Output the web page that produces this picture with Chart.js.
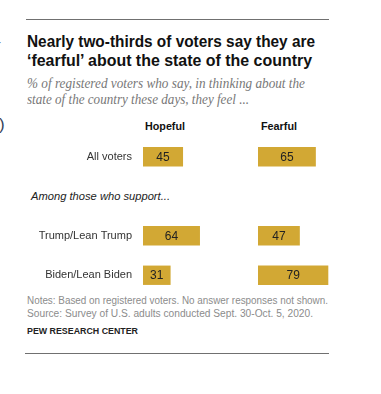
<!DOCTYPE html>
<html>
<head>
<meta charset="utf-8">
<script src="https://cdn.jsdelivr.net/npm/chart.js@4/dist/chart.umd.min.js"></script>
<style>
  html, body { margin: 0; padding: 0; background: #fff; }
  body { width: 381px; height: 394px; position: relative; overflow: hidden; }
  .t { position: absolute; white-space: nowrap; line-height: 1; transform-origin: 0 0; }
  .sans { font-family: "Liberation Sans", Arial, sans-serif; }
  .serif { font-family: "Liberation Serif", "Times New Roman", serif; }
  .rule { position: absolute; height: 1px; background: #707070; }
  canvas { position: absolute; }
</style>
</head>
<body>
<script>
// ---- data ----
const categories = ['All voters', '', 'Trump/Lean Trump', 'Biden/Lean Biden'];
const hopeful = [45, null, 64, 31];
const fearful = [65, null, 47, 79];
const seriesNames = ['Hopeful', 'Fearful'];
const titleLines = ['Nearly two-thirds of voters say they are', '\u2018fearful\u2019 about the state of the country'];
const subtitleLines = ['% of registered voters who say, in thinking about the', 'state of the country these days, they feel ...'];
const groupNote = 'Among those who support...';
const noteLines = ['Notes: Based on registered voters. No answer responses not shown.', 'Source: Survey of U.S. adults conducted Sept. 30-Oct. 5, 2020.'];
const credit = 'PEW RESEARCH CENTER';
</script>

<div class="rule" style="left:26px; top:19px; width:303px;"></div>
<div class="rule" style="left:25px; top:353px; width:304px;"></div>
<div class="t sans" style="left:-3px; top:36px; font-size:12px; color:#5a6a80;">-</div>
<div class="t sans" style="left:-1px; top:116px; font-size:17px; color:#34425a;">)</div>

<div id="texts"></div>
<canvas id="c1" width="232" height="158" style="left:0; top:137px; width:232px; height:158px;"></canvas>
<canvas id="c2" width="89" height="158" style="left:258px; top:137px; width:89px; height:158px;"></canvas>

<script>
const holder = document.getElementById('texts');
function addText(txt, cls, left, top, size, style, w) {
  const d = document.createElement('div');
  d.className = 't ' + cls;
  d.textContent = txt;
  d.style.left = left + 'px';
  d.style.top = top + 'px';
  d.style.fontSize = size + 'px';
  d.style.cssText += style;
  if (w) d.dataset.w = w;
  holder.appendChild(d);
  return d;
}
addText(titleLines[0], 'sans', 27, 32.7, 16.5, 'font-weight:bold;color:#111;', 288);
addText(titleLines[1], 'sans', 27, 51.7, 16.5, 'font-weight:bold;color:#111;', 285);
addText(subtitleLines[0], 'serif', 27, 77.3, 14, 'font-style:italic;color:#777;', 278);
addText(subtitleLines[1], 'serif', 27, 93, 14, 'font-style:italic;color:#777;', 222);
addText(seriesNames[0], 'sans', 145, 120.7, 11, 'font-weight:bold;color:#111;', 40);
addText(seriesNames[1], 'sans', 261, 120.7, 11, 'font-weight:bold;color:#111;', 36);
addText(groupNote, 'sans', 31, 191, 10.5, 'font-style:italic;color:#222;', 139);
addText(noteLines[0], 'sans', 27, 295.5, 10, 'color:#8c8c8c;', 301);
addText(noteLines[1], 'sans', 27, 308.5, 10, 'color:#8c8c8c;', 286);
addText(credit, 'sans', 27, 326.3, 9.5, 'font-weight:bold;color:#222;', 111);

document.querySelectorAll('.t[data-w]').forEach(el => {
  const w = el.getBoundingClientRect().width;
  const t = +el.dataset.w;
  if (w > 0) el.style.transform = 'scaleX(' + (t / w) + ')';
});

const GOLD = '#d2a834';
const valueLabels = {
  id: 'valueLabels',
  afterDatasetsDraw(chart) {
    const ctx = chart.ctx;
    const ds = chart.data.datasets[0];
    const meta = chart.getDatasetMeta(0);
    ctx.save();
    ctx.font = '12px "Liberation Sans", Arial, sans-serif';
    ctx.fillStyle = '#222';
    ctx.textAlign = 'center';
    ctx.textBaseline = 'middle';
    meta.data.forEach((bar, i) => {
      const v = ds.data[i];
      if (v == null) return;
      ctx.fillText(String(v), (bar.x + bar.base) / 2, bar.y + 0.5);
    });
    ctx.restore();
  }
};

function makeChart(id, values, showLabels) {
  return new Chart(document.getElementById(id), {
    type: 'bar',
    data: {
      labels: categories,
      datasets: [{
        data: values,
        backgroundColor: GOLD,
        borderWidth: 0,
        categoryPercentage: 1,
        barPercentage: 0.49
      }]
    },
    options: {
      indexAxis: 'y',
      responsive: false,
      animation: false,
      devicePixelRatio: 1,
      layout: { padding: 0 },
      plugins: { legend: { display: false }, tooltip: { enabled: false }, title: { display: false } },
      scales: {
        x: { display: false, min: 0, max: 100 },
        y: {
          display: showLabels,
          grid: { display: false, drawTicks: false },
          border: { display: false },
          ticks: {
            padding: 11,
            color: '#333',
            font: { family: '"Liberation Sans", Arial, sans-serif', size: 11 }
          },
          afterFit: showLabels ? (s) => { s.width = 143; s.paddingTop = 0; s.paddingBottom = 0; } : undefined
        }
      }
    },
    plugins: [valueLabels]
  });
}
makeChart('c1', hopeful, true);
makeChart('c2', fearful, false);
</script>
</body>
</html>
